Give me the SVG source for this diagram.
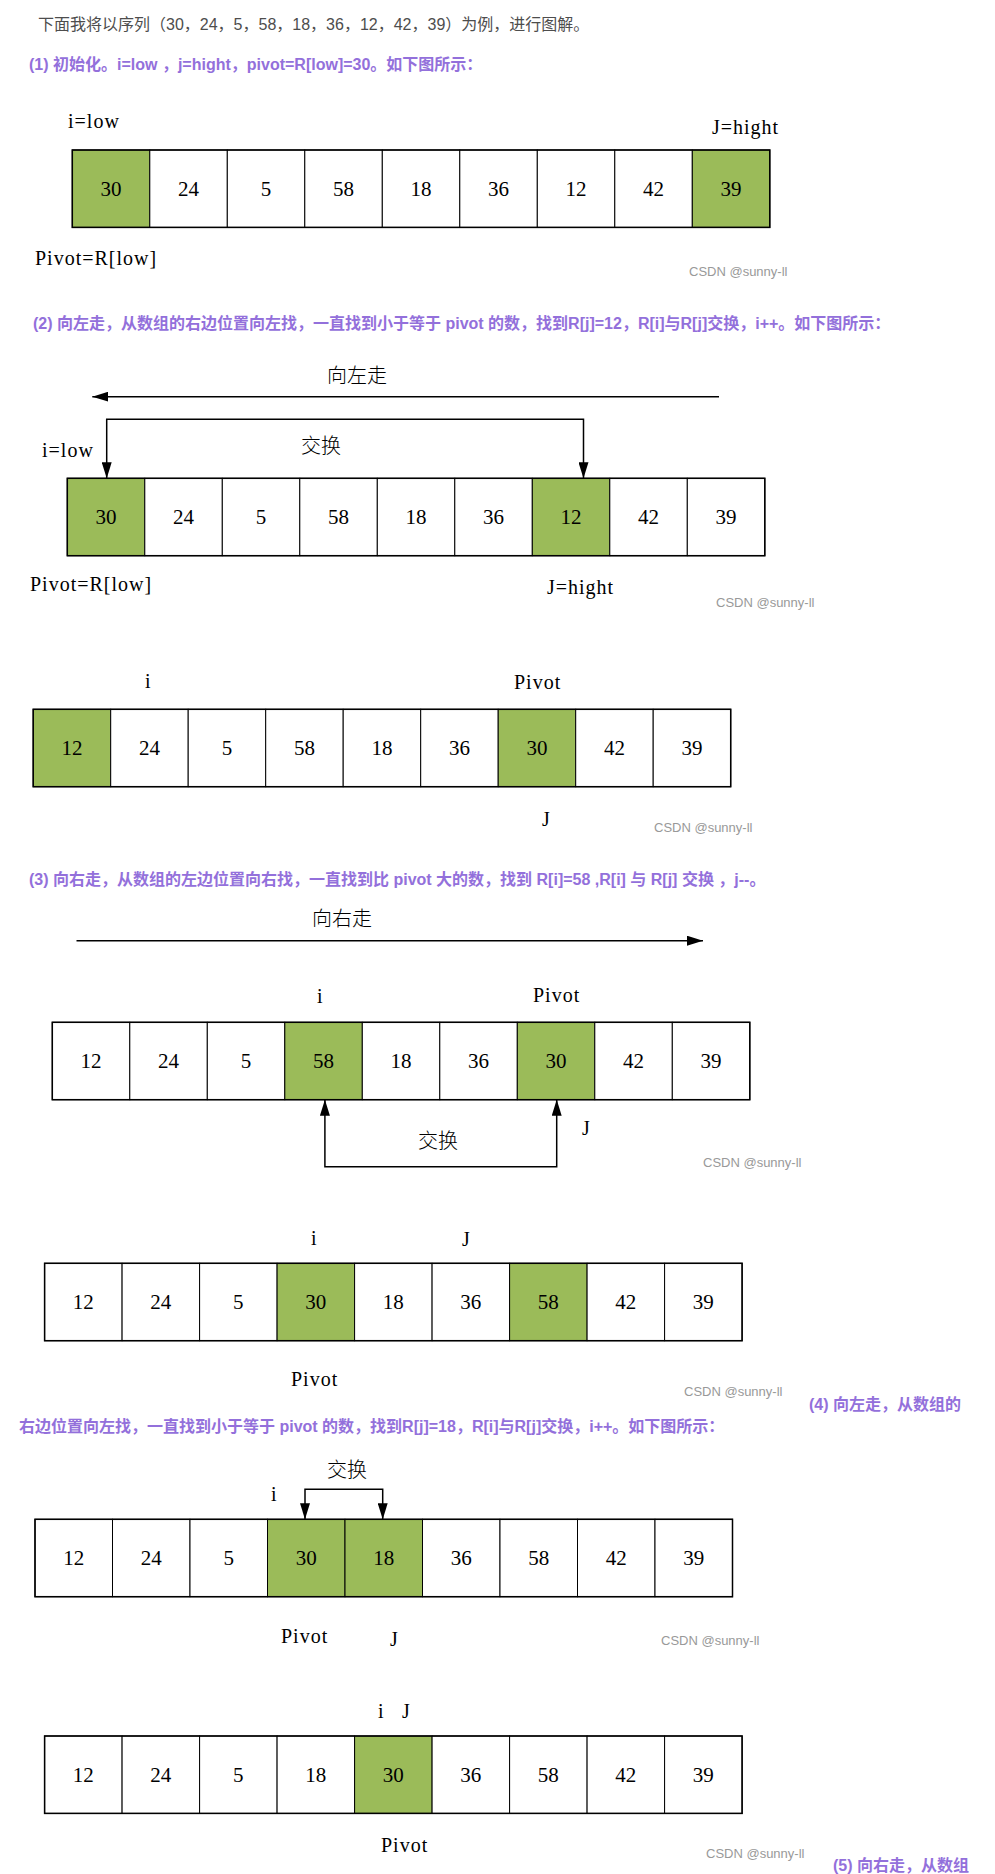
<svg xmlns="http://www.w3.org/2000/svg" width="995" height="1874" viewBox="0 0 995 1874">
<style>
.cell{fill:#fff;stroke:#000;stroke-width:1}
.hl{fill:#9BBB59}
.num{font-family:"Liberation Serif",serif;font-size:21px;text-anchor:middle;fill:#000}
.lbl{font-family:"Liberation Serif",serif;font-size:20px;letter-spacing:1px;fill:#000}
.cn{font-family:"Noto Sans CJK SC",sans-serif;font-size:20px;font-weight:300;fill:#000}
.h{font-family:"Liberation Sans","Noto Sans CJK SC",sans-serif;font-size:16px;font-weight:bold;fill:#9370DB}
.intro{font-family:"Liberation Sans","Noto Sans CJK SC",sans-serif;font-size:16px;fill:#4d4d4d}
.wm{font-family:"Liberation Sans",sans-serif;font-size:13px;fill:#999}
.ln{fill:none;stroke:#000;stroke-width:1.5}
.frame{fill:none;stroke:#000;stroke-width:1.5}
</style>
<defs>
<marker id="ah" viewBox="0 0 16 10" refX="16" refY="5" markerWidth="16" markerHeight="10" markerUnits="userSpaceOnUse" orient="auto-start-reverse">
<path d="M0,0 L16,5 L0,10 z" fill="#000"/>
</marker>
</defs>
<rect width="995" height="1874" fill="#fff"/>

<g id="texts">
<text class="intro" x="38" y="30">下面我将以序列（30，24，5，58，18，36，12，42，39）为例，进行图解。</text>
<text class="h" x="29" y="70">(1)  初始化。i=low ，j=hight，pivot=R[low]=30。如下图所示：</text>
<text class="h" x="33" y="329">(2)  向左走，从数组的右边位置向左找，一直找到小于等于 pivot 的数，找到R[j]=12，R[i]与R[j]交换，i++。如下图所示：</text>
<text class="h" x="29" y="885">(3)  向右走，从数组的左边位置向右找，一直找到比 pivot 大的数，找到 R[i]=58 ,R[i] 与 R[j] 交换 ，j--。</text>
<text class="h" x="809" y="1410">(4)  向左走，从数组的</text>
<text class="h" x="19" y="1432">右边位置向左找，一直找到小于等于 pivot 的数，找到R[j]=18，R[i]与R[j]交换，i++。如下图所示：</text>
<text class="h" x="833" y="1871">(5)  向右走，从数组</text>

<text class="wm" x="689" y="276">CSDN @sunny-ll</text>
<text class="wm" x="716" y="607">CSDN @sunny-ll</text>
<text class="wm" x="654" y="832">CSDN @sunny-ll</text>
<text class="wm" x="703" y="1167">CSDN @sunny-ll</text>
<text class="wm" x="684" y="1396">CSDN @sunny-ll</text>
<text class="wm" x="661" y="1645">CSDN @sunny-ll</text>
<text class="wm" x="706" y="1858">CSDN @sunny-ll</text>

<text class="lbl" x="68" y="128">i=low</text>
<text class="lbl" x="712" y="134">J=hight</text>
<text class="lbl" x="35" y="265">Pivot=R[low]</text>

<text class="cn" x="327" y="383">向左走</text>
<text class="cn" x="301" y="453">交换</text>
<text class="lbl" x="42" y="457">i=low</text>
<text class="lbl" x="30" y="591">Pivot=R[low]</text>
<text class="lbl" x="547" y="594">J=hight</text>

<text class="lbl" x="145" y="688">i</text>
<text class="lbl" x="514" y="689">Pivot</text>
<text class="lbl" x="542" y="826">J</text>

<text class="cn" x="312" y="926">向右走</text>
<text class="lbl" x="317" y="1003">i</text>
<text class="lbl" x="533" y="1002">Pivot</text>
<text class="lbl" x="582" y="1135">J</text>
<text class="cn" x="418" y="1148">交换</text>

<text class="lbl" x="311" y="1245">i</text>
<text class="lbl" x="462" y="1246">J</text>
<text class="lbl" x="291" y="1386">Pivot</text>

<text class="cn" x="327" y="1477">交换</text>
<text class="lbl" x="271" y="1501">i</text>
<text class="lbl" x="281" y="1643">Pivot</text>
<text class="lbl" x="390" y="1646">J</text>

<text class="lbl" y="1718"><tspan x="378">i</tspan><tspan x="402">J</tspan></text>
<text class="lbl" x="381" y="1852">Pivot</text>
</g>

<g id="row1" transform="translate(72.3,150)">
<g id="r1c0"><rect class="cell hl" x="0" y="0" width="77.5" height="77.4"/><text class="num" x="38.75" y="46">30</text></g>
<g id="r1c1"><rect class="cell" x="77.5" y="0" width="77.5" height="77.4"/><text class="num" x="116.25" y="46">24</text></g>
<g id="r1c2"><rect class="cell" x="155" y="0" width="77.5" height="77.4"/><text class="num" x="193.75" y="46">5</text></g>
<g id="r1c3"><rect class="cell" x="232.5" y="0" width="77.5" height="77.4"/><text class="num" x="271.25" y="46">58</text></g>
<g id="r1c4"><rect class="cell" x="310" y="0" width="77.5" height="77.4"/><text class="num" x="348.75" y="46">18</text></g>
<g id="r1c5"><rect class="cell" x="387.5" y="0" width="77.5" height="77.4"/><text class="num" x="426.25" y="46">36</text></g>
<g id="r1c6"><rect class="cell" x="465" y="0" width="77.5" height="77.4"/><text class="num" x="503.75" y="46">12</text></g>
<g id="r1c7"><rect class="cell" x="542.5" y="0" width="77.5" height="77.4"/><text class="num" x="581.25" y="46">42</text></g>
<g id="r1c8"><rect class="cell hl" x="620" y="0" width="77.5" height="77.4"/><text class="num" x="658.75" y="46">39</text></g>
<rect class="frame" x="0" y="0" width="697.5" height="77.4"/>
</g>

<g id="row2" transform="translate(67.3,478.3)">
<g id="r2c0"><rect class="cell hl" x="0" y="0" width="77.5" height="77.4"/><text class="num" x="38.75" y="46">30</text></g>
<g id="r2c1"><rect class="cell" x="77.5" y="0" width="77.5" height="77.4"/><text class="num" x="116.25" y="46">24</text></g>
<g id="r2c2"><rect class="cell" x="155" y="0" width="77.5" height="77.4"/><text class="num" x="193.75" y="46">5</text></g>
<g id="r2c3"><rect class="cell" x="232.5" y="0" width="77.5" height="77.4"/><text class="num" x="271.25" y="46">58</text></g>
<g id="r2c4"><rect class="cell" x="310" y="0" width="77.5" height="77.4"/><text class="num" x="348.75" y="46">18</text></g>
<g id="r2c5"><rect class="cell" x="387.5" y="0" width="77.5" height="77.4"/><text class="num" x="426.25" y="46">36</text></g>
<g id="r2c6"><rect class="cell hl" x="465" y="0" width="77.5" height="77.4"/><text class="num" x="503.75" y="46">12</text></g>
<g id="r2c7"><rect class="cell" x="542.5" y="0" width="77.5" height="77.4"/><text class="num" x="581.25" y="46">42</text></g>
<g id="r2c8"><rect class="cell" x="620" y="0" width="77.5" height="77.4"/><text class="num" x="658.75" y="46">39</text></g>
<rect class="frame" x="0" y="0" width="697.5" height="77.4"/>
</g>

<g id="row3" transform="translate(33.2,709.3)">
<g id="r3c0"><rect class="cell hl" x="0" y="0" width="77.5" height="77.4"/><text class="num" x="38.75" y="46">12</text></g>
<g id="r3c1"><rect class="cell" x="77.5" y="0" width="77.5" height="77.4"/><text class="num" x="116.25" y="46">24</text></g>
<g id="r3c2"><rect class="cell" x="155" y="0" width="77.5" height="77.4"/><text class="num" x="193.75" y="46">5</text></g>
<g id="r3c3"><rect class="cell" x="232.5" y="0" width="77.5" height="77.4"/><text class="num" x="271.25" y="46">58</text></g>
<g id="r3c4"><rect class="cell" x="310" y="0" width="77.5" height="77.4"/><text class="num" x="348.75" y="46">18</text></g>
<g id="r3c5"><rect class="cell" x="387.5" y="0" width="77.5" height="77.4"/><text class="num" x="426.25" y="46">36</text></g>
<g id="r3c6"><rect class="cell hl" x="465" y="0" width="77.5" height="77.4"/><text class="num" x="503.75" y="46">30</text></g>
<g id="r3c7"><rect class="cell" x="542.5" y="0" width="77.5" height="77.4"/><text class="num" x="581.25" y="46">42</text></g>
<g id="r3c8"><rect class="cell" x="620" y="0" width="77.5" height="77.4"/><text class="num" x="658.75" y="46">39</text></g>
<rect class="frame" x="0" y="0" width="697.5" height="77.4"/>
</g>

<g id="row4" transform="translate(52.3,1022.3)">
<g id="r4c0"><rect class="cell" x="0" y="0" width="77.5" height="77.4"/><text class="num" x="38.75" y="46">12</text></g>
<g id="r4c1"><rect class="cell" x="77.5" y="0" width="77.5" height="77.4"/><text class="num" x="116.25" y="46">24</text></g>
<g id="r4c2"><rect class="cell" x="155" y="0" width="77.5" height="77.4"/><text class="num" x="193.75" y="46">5</text></g>
<g id="r4c3"><rect class="cell hl" x="232.5" y="0" width="77.5" height="77.4"/><text class="num" x="271.25" y="46">58</text></g>
<g id="r4c4"><rect class="cell" x="310" y="0" width="77.5" height="77.4"/><text class="num" x="348.75" y="46">18</text></g>
<g id="r4c5"><rect class="cell" x="387.5" y="0" width="77.5" height="77.4"/><text class="num" x="426.25" y="46">36</text></g>
<g id="r4c6"><rect class="cell hl" x="465" y="0" width="77.5" height="77.4"/><text class="num" x="503.75" y="46">30</text></g>
<g id="r4c7"><rect class="cell" x="542.5" y="0" width="77.5" height="77.4"/><text class="num" x="581.25" y="46">42</text></g>
<g id="r4c8"><rect class="cell" x="620" y="0" width="77.5" height="77.4"/><text class="num" x="658.75" y="46">39</text></g>
<rect class="frame" x="0" y="0" width="697.5" height="77.4"/>
</g>

<g id="row5" transform="translate(44.6,1263.3)">
<g id="r5c0"><rect class="cell" x="0" y="0" width="77.5" height="77.4"/><text class="num" x="38.75" y="46">12</text></g>
<g id="r5c1"><rect class="cell" x="77.5" y="0" width="77.5" height="77.4"/><text class="num" x="116.25" y="46">24</text></g>
<g id="r5c2"><rect class="cell" x="155" y="0" width="77.5" height="77.4"/><text class="num" x="193.75" y="46">5</text></g>
<g id="r5c3"><rect class="cell hl" x="232.5" y="0" width="77.5" height="77.4"/><text class="num" x="271.25" y="46">30</text></g>
<g id="r5c4"><rect class="cell" x="310" y="0" width="77.5" height="77.4"/><text class="num" x="348.75" y="46">18</text></g>
<g id="r5c5"><rect class="cell" x="387.5" y="0" width="77.5" height="77.4"/><text class="num" x="426.25" y="46">36</text></g>
<g id="r5c6"><rect class="cell hl" x="465" y="0" width="77.5" height="77.4"/><text class="num" x="503.75" y="46">58</text></g>
<g id="r5c7"><rect class="cell" x="542.5" y="0" width="77.5" height="77.4"/><text class="num" x="581.25" y="46">42</text></g>
<g id="r5c8"><rect class="cell" x="620" y="0" width="77.5" height="77.4"/><text class="num" x="658.75" y="46">39</text></g>
<rect class="frame" x="0" y="0" width="697.5" height="77.4"/>
</g>

<g id="row6" transform="translate(35,1519.3)">
<g id="r6c0"><rect class="cell" x="0" y="0" width="77.5" height="77.4"/><text class="num" x="38.75" y="46">12</text></g>
<g id="r6c1"><rect class="cell" x="77.5" y="0" width="77.5" height="77.4"/><text class="num" x="116.25" y="46">24</text></g>
<g id="r6c2"><rect class="cell" x="155" y="0" width="77.5" height="77.4"/><text class="num" x="193.75" y="46">5</text></g>
<g id="r6c3"><rect class="cell hl" x="232.5" y="0" width="77.5" height="77.4"/><text class="num" x="271.25" y="46">30</text></g>
<g id="r6c4"><rect class="cell hl" x="310" y="0" width="77.5" height="77.4"/><text class="num" x="348.75" y="46">18</text></g>
<g id="r6c5"><rect class="cell" x="387.5" y="0" width="77.5" height="77.4"/><text class="num" x="426.25" y="46">36</text></g>
<g id="r6c6"><rect class="cell" x="465" y="0" width="77.5" height="77.4"/><text class="num" x="503.75" y="46">58</text></g>
<g id="r6c7"><rect class="cell" x="542.5" y="0" width="77.5" height="77.4"/><text class="num" x="581.25" y="46">42</text></g>
<g id="r6c8"><rect class="cell" x="620" y="0" width="77.5" height="77.4"/><text class="num" x="658.75" y="46">39</text></g>
<rect class="frame" x="0" y="0" width="697.5" height="77.4"/>
</g>

<g id="row7" transform="translate(44.6,1736)">
<g id="r7c0"><rect class="cell" x="0" y="0" width="77.5" height="77.4"/><text class="num" x="38.75" y="46">12</text></g>
<g id="r7c1"><rect class="cell" x="77.5" y="0" width="77.5" height="77.4"/><text class="num" x="116.25" y="46">24</text></g>
<g id="r7c2"><rect class="cell" x="155" y="0" width="77.5" height="77.4"/><text class="num" x="193.75" y="46">5</text></g>
<g id="r7c3"><rect class="cell" x="232.5" y="0" width="77.5" height="77.4"/><text class="num" x="271.25" y="46">18</text></g>
<g id="r7c4"><rect class="cell hl" x="310" y="0" width="77.5" height="77.4"/><text class="num" x="348.75" y="46">30</text></g>
<g id="r7c5"><rect class="cell" x="387.5" y="0" width="77.5" height="77.4"/><text class="num" x="426.25" y="46">36</text></g>
<g id="r7c6"><rect class="cell" x="465" y="0" width="77.5" height="77.4"/><text class="num" x="503.75" y="46">58</text></g>
<g id="r7c7"><rect class="cell" x="542.5" y="0" width="77.5" height="77.4"/><text class="num" x="581.25" y="46">42</text></g>
<g id="r7c8"><rect class="cell" x="620" y="0" width="77.5" height="77.4"/><text class="num" x="658.75" y="46">39</text></g>
<rect class="frame" x="0" y="0" width="697.5" height="77.4"/>
</g>

<g id="connectors">
<path class="ln" d="M719,396.7 H92.3" marker-end="url(#ah)"/>
<path class="ln" d="M106.7,478.3 V419.3 H583.5 V478.3" marker-start="url(#ah)" marker-end="url(#ah)"/>
<path class="ln" d="M76.5,940.7 H703" marker-end="url(#ah)"/>
<path class="ln" d="M324.9,1099.7 V1166.7 H556.7 V1099.7" marker-start="url(#ah)" marker-end="url(#ah)"/>
<path class="ln" d="M305,1519.3 V1489.3 H382.7 V1519.3" marker-start="url(#ah)" marker-end="url(#ah)"/>
</g>
</svg>
